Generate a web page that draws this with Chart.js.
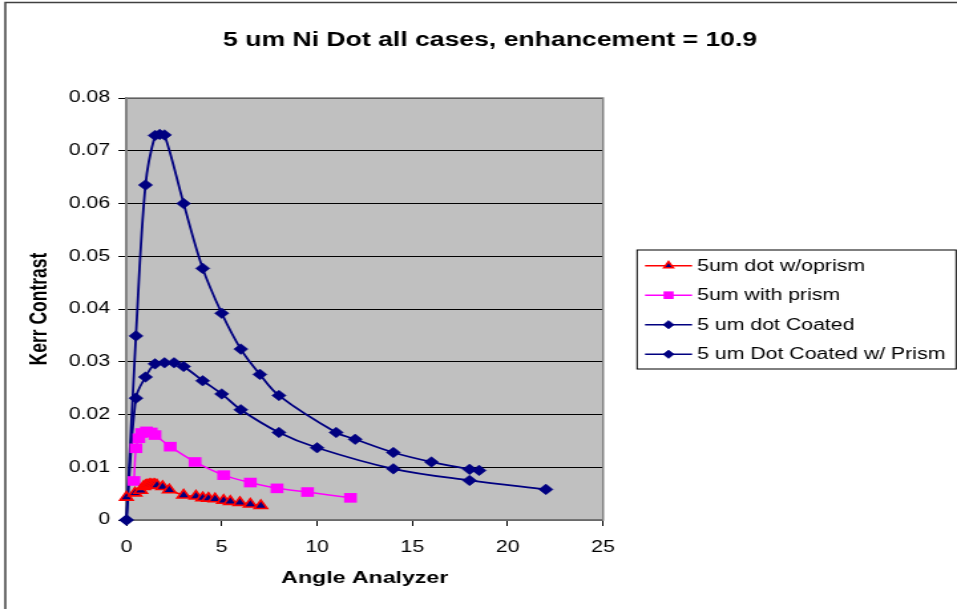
<!DOCTYPE html>
<html><head><meta charset="utf-8">
<script src="https://cdn.jsdelivr.net/npm/chart.js@4/dist/chart.umd.min.js"></script>
<style>
html,body{margin:0;padding:0;background:#fff;overflow:hidden;}
#wrap{width:720px;height:609px;transform:scaleX(1.329167);transform-origin:0 0;}
canvas{display:block;}
</style></head><body>
<div id="wrap"><canvas id="c" width="720" height="609"></canvas></div>
<script>
const titleText = '5 um Ni Dot all cases, enhancement = 10.9';
const xTitleText = 'Angle Analyzer';
const yTitleText = 'Kerr Contrast';
const seriesNames = ['5um dot w/oprism', '5um with prism', '5 um dot Coated', '5 um Dot Coated w/ Prism'];
const xTickValues = [0, 5, 10, 15, 20, 25];
const yTickValues = [0, 0.01, 0.02, 0.03, 0.04, 0.05, 0.06, 0.07, 0.08];

const noPrismX = [0, 0.45, 0.75, 0.9, 1.0, 1.1, 1.2, 1.3, 1.4, 1.5, 1.6, 1.9, 2.25, 3.0, 3.65, 4.0, 4.3, 4.65, 5.1, 5.45, 5.95, 6.5, 7.05];
const noPrismY = [0.0043, 0.0051, 0.0056, 0.0063, 0.0065, 0.0066, 0.0067, 0.0067, 0.0067, 0.0067, 0.0066, 0.0063, 0.0057, 0.0047, 0.0045, 0.0042, 0.0041, 0.0040, 0.0037, 0.0035, 0.0033, 0.0030, 0.0027];

const prismX = [0.4, 0.5, 0.65, 0.8, 1.05, 1.3, 1.5, 2.3, 3.6, 5.1, 6.5, 7.9, 9.5, 11.75];
const prismY = [0.0074, 0.0136, 0.0155, 0.0165, 0.0168, 0.0166, 0.0161, 0.0139, 0.0110, 0.0085, 0.0071, 0.0060, 0.0053, 0.0042];

const coatedX = [0, 0.5, 1.0, 1.5, 2.0, 2.5, 3.0, 4.0, 5.0, 6.0, 8.0, 10.0, 14.0, 18.0, 22.0];
const coatedY = [0, 0.0231, 0.0271, 0.0296, 0.0298, 0.0298, 0.0291, 0.0264, 0.0239, 0.0209, 0.0166, 0.0137, 0.0097, 0.0075, 0.0058];

const coatedPrismX = [0, 0.5, 1.0, 1.5, 1.75, 2.0, 3.0, 4.0, 5.0, 6.0, 7.0, 8.0, 11.0, 12.0, 14.0, 16.0, 18.0, 18.5];
const coatedPrismY = [0, 0.0349, 0.0635, 0.0729, 0.0731, 0.0730, 0.0600, 0.0477, 0.0392, 0.0324, 0.0276, 0.0236, 0.0166, 0.0153, 0.0128, 0.0110, 0.0096, 0.0094];

const FONT = '"Liberation Sans", Arial, sans-serif';
const pts = (xs, ys) => xs.map((x, i) => ({x: x, y: ys[i]}));

const datasets = [
  {label: seriesNames[0], data: pts(noPrismX, noPrismY), borderColor: '#FF0000', borderWidth: 1.5,
   pointStyle: 'triangle', pointRadius: 5.6, pointBackgroundColor: '#000080', pointBorderColor: '#FF0000', pointBorderWidth: 1.6, tension: 0.3},
  {label: seriesNames[1], data: pts(prismX, prismY), borderColor: '#FF00FF', borderWidth: 1.5,
   pointStyle: 'rect', pointRadius: 6.8, pointBackgroundColor: '#FF00FF', pointBorderColor: '#FF00FF', pointBorderWidth: 0, tension: 0.3},
  {label: seriesNames[2], data: pts(coatedX, coatedY), borderColor: '#000080', borderWidth: 1.8,
   pointStyle: 'rectRot', pointRadius: 5.3, pointBackgroundColor: '#000080', pointBorderColor: '#000080', pointBorderWidth: 0.5, tension: 0.35},
  {label: seriesNames[3], data: pts(coatedPrismX, coatedPrismY), borderColor: '#000080', borderWidth: 1.8,
   pointStyle: 'rectRot', pointRadius: 5.3, pointBackgroundColor: '#000080', pointBorderColor: '#000080', pointBorderWidth: 0.5, tension: 0.35}
];
datasets.forEach(d => { d.fill = false; d.clip = false; d.pointHoverRadius = d.pointRadius; });

function drawMarker(ctx, style, x, y, r, fill, stroke, bw) {
  ctx.save();
  ctx.beginPath();
  if (style === 'triangle') {
    ctx.moveTo(x, y - r);
    ctx.lineTo(x + r * 0.866, y + r * 0.5);
    ctx.lineTo(x - r * 0.866, y + r * 0.5);
    ctx.closePath();
  } else if (style === 'rect') {
    const s = r * Math.SQRT1_2;
    ctx.rect(x - s, y - s, 2 * s, 2 * s);
  } else {
    ctx.moveTo(x, y - r); ctx.lineTo(x + r, y); ctx.lineTo(x, y + r); ctx.lineTo(x - r, y); ctx.closePath();
  }
  ctx.fillStyle = fill; ctx.fill();
  if (bw > 0) { ctx.lineWidth = bw; ctx.strokeStyle = stroke; ctx.stroke(); }
  ctx.restore();
}

const decor = {
  id: 'decor',
  beforeDraw(chart) {
    const {ctx, chartArea: a} = chart;
    ctx.save();
    ctx.fillStyle = '#FFFFFF';
    ctx.fillRect(0, 0, chart.width, chart.height);
    ctx.fillStyle = '#C0C0C0';
    ctx.fillRect(a.left, a.top, a.right - a.left, a.bottom - a.top);
    ctx.restore();
  },
  beforeDatasetsDraw(chart) {
    const {ctx, chartArea: a} = chart;
    ctx.save();
    ctx.strokeStyle = '#808080';
    ctx.lineWidth = 1.5;
    ctx.strokeRect(a.left, a.top, a.right - a.left, a.bottom - a.top);
    ctx.restore();
  },
  afterDraw(chart) {
    const ctx = chart.ctx;
    ctx.save();
    ctx.strokeStyle = '#404040';
    ctx.lineWidth = 1.5;
    ctx.strokeRect(4, 2.5, 800, 700);
    const bx = 479.3, by = 250, bw = 240, bh = 119;
    ctx.fillStyle = '#FFFFFF';
    ctx.fillRect(bx, by, bw, bh);
    ctx.strokeStyle = '#000000';
    ctx.lineWidth = 1;
    ctx.strokeRect(bx, by, bw, bh);
    const legR = [4.0, 5.4, 4.2, 4.2];
    chart.data.datasets.forEach((d, i) => {
      const y = 265.7 + i * 29.5;
      ctx.strokeStyle = d.borderColor;
      ctx.lineWidth = 1.4;
      ctx.beginPath(); ctx.moveTo(485.3, y); ctx.lineTo(520.7, y); ctx.stroke();
      drawMarker(ctx, d.pointStyle, 503, y, legR[i], d.pointBackgroundColor, d.pointBorderColor, d.pointBorderWidth);
      ctx.fillStyle = '#000000';
      ctx.font = '16px ' + FONT;
      ctx.textAlign = 'left';
      ctx.textBaseline = 'middle';
      ctx.fillText(d.label, 524.5, y + 0.5);
    });
    ctx.restore();
  }
};

new Chart(document.getElementById('c'), {
  type: 'line',
  data: {datasets: datasets},
  options: {
    responsive: false,
    animation: false,
    devicePixelRatio: 1,
    layout: {padding: {left: 17.4, right: 0, top: 0, bottom: 0}},
    plugins: {
      legend: {display: false},
      tooltip: {enabled: false},
      title: {display: true, text: titleText, color: '#000000',
        font: {family: FONT, size: 20, weight: 'bold'}, padding: {top: 28, bottom: 46}}
    },
    scales: {
      x: {
        type: 'linear', position: 'bottom',
        min: xTickValues[0], max: xTickValues[xTickValues.length - 1],
        afterBuildTicks: s => { s.ticks = xTickValues.map(v => ({value: v})); },
        afterFit: s => { s.height = 89; },
        grid: {drawOnChartArea: false, drawTicks: true, tickLength: 6, color: '#000000', lineWidth: 1},
        border: {display: true, color: '#505050', width: 1.5},
        ticks: {color: '#000000', font: {family: FONT, size: 16}, padding: 12, maxRotation: 0,
          callback: v => String(v)},
        title: {display: true, text: xTitleText, color: '#000000',
          font: {family: FONT, size: 17.4, weight: 'bold'}, padding: {top: 0, bottom: 20.6}}
      },
      y: {
        type: 'linear', position: 'left',
        min: yTickValues[0], max: yTickValues[yTickValues.length - 1],
        afterBuildTicks: s => { s.ticks = yTickValues.map(v => ({value: v})); },
        afterFit: s => { s.width = 77.7; },
        grid: {drawOnChartArea: true, drawTicks: true, tickLength: 6, color: '#000000', lineWidth: 1},
        border: {display: true, color: '#808080', width: 1.5},
        ticks: {color: '#000000', font: {family: FONT, size: 16}, padding: 6.3,
          callback: v => (v === 0 ? '0' : Number(v).toFixed(2))},
        title: {display: true, text: yTitleText, color: '#000000',
          font: {family: FONT, size: 17.5, weight: 'bold'}, padding: {top: 2.5, bottom: 0}}
      },
      yRight: {
        type: 'linear', position: 'right', display: true,
        afterFit: s => { s.width = 266.3; },
        grid: {display: false, drawTicks: false},
        border: {display: false},
        ticks: {display: false}
      }
    }
  },
  plugins: [decor]
});
</script>
</body></html>
